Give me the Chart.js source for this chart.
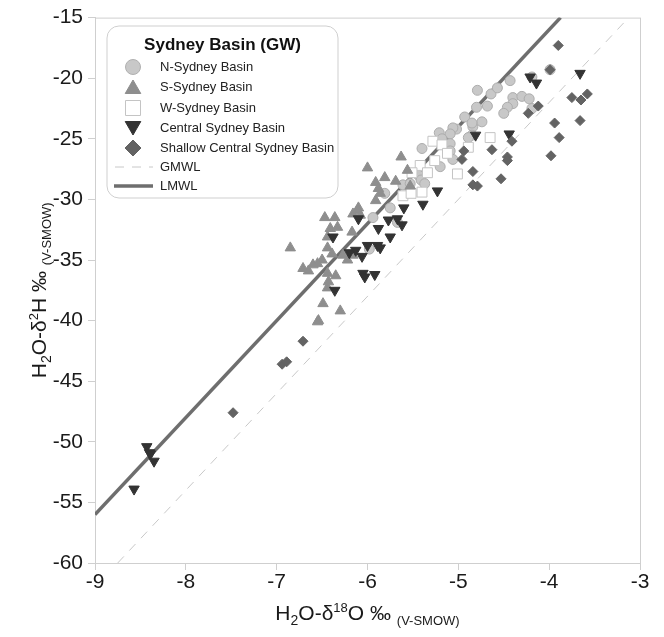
<!DOCTYPE html>
<html>
<head>
<meta charset="utf-8">
<script src="https://cdn.jsdelivr.net/npm/chart.js@4.4.0/dist/chart.umd.min.js"></script>
<style>
  html, body { margin: 0; padding: 0; background: #fff; }
  #wrap { width: 664px; height: 637px; }
</style>
</head>
<body>
<div id="wrap"><canvas id="isoChart" width="664" height="637"></canvas></div>
<script>
// --- values (d18O, d2H, permil V-SMOW) ---
const nX = [-3.99,-4.19,-4.43,-4.79,-4.64,-4.57,-4.80,-4.68,-4.40,-4.30,-4.22,-4.40,-4.46,-4.50,-4.19,-4.74,-4.84,-4.85,-4.93,-4.85,-5.02,-5.06,-5.21,-5.09,-4.89,-5.18,-5.09,-5.09,-5.40,-5.06,-5.20,-5.44,-5.41,-5.37,-5.55,-5.61,-5.53,-5.81,-5.75,-5.94,-5.98,-5.67];
const nY = [-19.3,-19.9,-20.2,-21.0,-21.3,-20.8,-22.4,-22.3,-21.6,-21.5,-21.7,-22.1,-22.4,-22.9,-22.5,-23.6,-24.0,-24.7,-23.2,-23.7,-24.2,-24.1,-24.5,-24.6,-24.9,-25.0,-25.4,-26.0,-25.8,-26.7,-27.3,-28.0,-28.4,-28.7,-28.9,-28.8,-28.7,-29.5,-30.7,-31.5,-34.1,-31.9];

const sX = [-5.63,-6.00,-5.91,-5.81,-5.69,-5.56,-5.88,-5.86,-5.91,-6.10,-5.53,-6.11,-6.16,-6.08,-6.47,-6.36,-6.41,-6.33,-6.17,-6.85,-6.44,-6.44,-6.39,-6.50,-6.55,-6.60,-6.65,-6.71,-6.44,-6.35,-6.43,-6.27,-6.22,-6.16,-6.49,-6.30,-6.54,-6.55,-6.44];
const sY = [-26.5,-27.4,-28.6,-28.2,-28.5,-27.6,-29.1,-29.5,-30.1,-30.7,-28.9,-30.9,-31.2,-31.3,-31.5,-31.5,-32.4,-32.3,-32.7,-34.0,-33.1,-34.0,-34.5,-35.0,-35.3,-35.4,-35.9,-35.7,-36.1,-36.3,-36.8,-34.6,-35.0,-34.6,-38.6,-39.2,-40.0,-40.1,-37.3];

const wX = [-4.65,-5.28,-5.18,-5.12,-4.89,-5.42,-5.26,-5.34,-5.01,-5.51,-5.61,-5.52,-5.40];
const wY = [-24.9,-25.2,-25.5,-26.2,-25.7,-27.2,-26.8,-27.8,-27.9,-27.8,-29.7,-29.5,-29.4];

const cX = [-4.21,-4.14,-3.66,-4.44,-4.81,-5.23,-5.60,-5.39,-5.77,-5.67,-5.62,-5.88,-5.75,-6.10,-6.38,-6.20,-6.13,-6.06,-6.00,-5.89,-5.86,-6.05,-6.03,-5.92,-6.36,-8.43,-8.40,-8.39,-8.35,-8.57];
const cY = [-19.9,-20.4,-19.6,-24.6,-24.7,-29.3,-30.7,-30.4,-31.7,-31.6,-32.1,-32.4,-33.1,-31.6,-33.1,-34.4,-34.2,-34.7,-33.8,-33.8,-34.0,-36.1,-36.4,-36.2,-37.5,-50.4,-50.9,-51.0,-51.6,-53.9];

const dX = [-3.90,-3.99,-3.75,-3.65,-3.58,-3.66,-3.94,-3.89,-3.98,-4.12,-4.23,-4.41,-4.63,-4.46,-4.46,-4.84,-4.53,-4.84,-4.79,-4.94,-4.96,-6.71,-6.94,-6.89,-7.48];
const dY = [-17.3,-19.3,-21.6,-21.8,-21.3,-23.5,-23.7,-24.9,-26.4,-22.3,-22.9,-25.2,-25.9,-26.5,-26.8,-27.7,-28.3,-28.8,-28.9,-26.0,-26.7,-41.7,-43.6,-43.4,-47.6];

// meteoric water lines (end points as drawn)
const gmwlX = [-8.75, -3.125];
const gmwlY = [-60, -15];
const lmwlX = [-9, -3.875];
const lmwlY = [-56, -15];

const xTicks = [-9, -8, -7, -6, -5, -4, -3];
const yTicks = [-60, -55, -50, -45, -40, -35, -30, -25, -20, -15];

const legendTitle = 'Sydney Basin (GW)';
const seriesNames = ['N-Sydney Basin', 'S-Sydney Basin', 'W-Sydney Basin', 'Central Sydney Basin', 'Shallow Central Sydney Basin', 'GMWL', 'LMWL'];

const FONT = '"Liberation Sans", Arial, Helvetica, sans-serif';

function pts(xs, ys) {
    return xs.map((x, i) => ({ x: x, y: ys[i] }));
}

// small marker painter for the legend box
function drawMark(ctx, kind, x, y, r, fill, stroke) {
    ctx.beginPath();
    if (kind === 'circle') {
        ctx.arc(x, y, r, 0, Math.PI * 2);
    } else if (kind === 'up') {
        ctx.moveTo(x, y - r);
        ctx.lineTo(x + r * 0.866, y + r * 0.5);
        ctx.lineTo(x - r * 0.866, y + r * 0.5);
        ctx.closePath();
    } else if (kind === 'down') {
        ctx.moveTo(x, y + r);
        ctx.lineTo(x + r * 0.866, y - r * 0.5);
        ctx.lineTo(x - r * 0.866, y - r * 0.5);
        ctx.closePath();
    } else if (kind === 'square') {
        ctx.rect(x - r, y - r, 2 * r, 2 * r);
    } else if (kind === 'diamond') {
        ctx.moveTo(x, y - r);
        ctx.lineTo(x + r, y);
        ctx.lineTo(x, y + r);
        ctx.lineTo(x - r, y);
        ctx.closePath();
    }
    ctx.fillStyle = fill;
    ctx.fill();
    ctx.lineWidth = 1;
    ctx.strokeStyle = stroke;
    ctx.stroke();
}

// text with sub/superscripts: parts = [text, size, yShift]
function richText(ctx, parts, x, y) {
    let w = 0;
    parts.forEach(p => {
        ctx.font = p[1] + 'px ' + FONT;
        w += ctx.measureText(p[0]).width;
    });
    let cx = x - w / 2;
    ctx.textAlign = 'left';
    ctx.textBaseline = 'alphabetic';
    parts.forEach(p => {
        ctx.font = p[1] + 'px ' + FONT;
        ctx.fillText(p[0], cx, y + p[2]);
        cx += ctx.measureText(p[0]).width;
    });
}

const decor = {
    id: 'decor',
    beforeDatasetsDraw(chart) {
        const a = chart.chartArea;
        const ctx = chart.ctx;
        ctx.save();
        ctx.strokeStyle = '#cfcfcf';
        ctx.lineWidth = 1;
        ctx.strokeRect(a.left + 0.5, a.top + 0.5, a.right - a.left, a.bottom - a.top);
        ctx.restore();
    },
    afterDraw(chart) {
        const a = chart.chartArea;
        const ctx = chart.ctx;
        ctx.save();
        ctx.fillStyle = '#1a1a1a';

        // x axis title
        richText(ctx, [['H', 21, 0], ['2', 14, 5], ['O-\u03b4', 21, 0], ['18', 13, -8], ['O \u2030 ', 21, 0], ['(V-SMOW)', 13, 5]],
            (a.left + a.right) / 2, 620);

        // y axis title (rotated)
        ctx.translate(46, (a.top + a.bottom) / 2);
        ctx.rotate(-Math.PI / 2);
        richText(ctx, [['H', 21, 0], ['2', 14, 5], ['O-\u03b4', 21, 0], ['2', 13, -8], ['H \u2030 ', 21, 0], ['(V-SMOW)', 13, 5]], 0, 0);
        ctx.restore();

        // legend box
        ctx.save();
        const bx = 107, by = 26, bw = 231, bh = 172, rr = 12;
        ctx.beginPath();
        ctx.moveTo(bx + rr, by);
        ctx.arcTo(bx + bw, by, bx + bw, by + bh, rr);
        ctx.arcTo(bx + bw, by + bh, bx, by + bh, rr);
        ctx.arcTo(bx, by + bh, bx, by, rr);
        ctx.arcTo(bx, by, bx + bw, by, rr);
        ctx.closePath();
        ctx.fillStyle = '#fff';
        ctx.fill();
        ctx.strokeStyle = '#cfcfcf';
        ctx.lineWidth = 1;
        ctx.stroke();

        ctx.fillStyle = '#111';
        ctx.font = 'bold 17px ' + FONT;
        ctx.textAlign = 'center';
        ctx.textBaseline = 'middle';
        ctx.fillText(legendTitle, bx + bw / 2, 45);

        const rows = [67, 87, 108, 128, 148, 167, 186];
        const mx = 133;
        drawMark(ctx, 'circle', mx, rows[0], 7.5, '#c8c8c8', '#b0b0b0');
        drawMark(ctx, 'up', mx, rows[1] + 2, 9, '#8e8e8e', '#8e8e8e');
        drawMark(ctx, 'square', mx, rows[2], 7.5, '#ffffff', '#c4c4c4');
        drawMark(ctx, 'down', mx, rows[3] - 2, 9, '#333333', '#333333');
        drawMark(ctx, 'diamond', mx, rows[4], 8, '#636363', '#636363');

        ctx.setLineDash([9, 8]);
        ctx.strokeStyle = '#c8c8c8';
        ctx.lineWidth = 1;
        ctx.beginPath();
        ctx.moveTo(115, rows[5]);
        ctx.lineTo(153, rows[5]);
        ctx.stroke();
        ctx.setLineDash([]);
        ctx.strokeStyle = '#6e6e6e';
        ctx.lineWidth = 3.5;
        ctx.beginPath();
        ctx.moveTo(114, rows[6]);
        ctx.lineTo(153, rows[6]);
        ctx.stroke();

        ctx.fillStyle = '#222';
        ctx.font = '13px ' + FONT;
        ctx.textAlign = 'left';
        seriesNames.forEach((s, i) => ctx.fillText(s, 160, rows[i]));
        ctx.restore();
    }
};

const ctx = document.getElementById('isoChart').getContext('2d');
new Chart(ctx, {
    type: 'scatter',
    data: {
        datasets: [
            {
                label: seriesNames[0],
                data: pts(nX, nY),
                pointStyle: 'circle',
                pointRadius: 5,
                backgroundColor: '#c8c8c8',
                borderColor: '#adadad',
                borderWidth: 1,
                order: 5
            },
            {
                label: seriesNames[1],
                data: pts(sX, sY),
                pointStyle: 'triangle',
                pointRadius: 6,
                backgroundColor: '#8e8e8e',
                borderColor: '#8e8e8e',
                borderWidth: 1,
                order: 3
            },
            {
                label: seriesNames[2],
                data: pts(wX, wY),
                pointStyle: 'rect',
                pointRadius: 7,
                backgroundColor: '#ffffff',
                borderColor: '#c4c4c4',
                borderWidth: 1,
                order: 4
            },
            {
                label: seriesNames[3],
                data: pts(cX, cY),
                pointStyle: 'triangle',
                rotation: 180,
                pointRadius: 6,
                backgroundColor: '#333333',
                borderColor: '#333333',
                borderWidth: 1,
                order: 2
            },
            {
                label: seriesNames[4],
                data: pts(dX, dY),
                pointStyle: 'rectRot',
                pointRadius: 5,
                backgroundColor: '#636363',
                borderColor: '#636363',
                borderWidth: 1,
                order: 1
            },
            {
                type: 'line',
                label: seriesNames[5],
                data: pts(gmwlX, gmwlY),
                borderColor: '#c8c8c8',
                borderWidth: 1,
                borderDash: [9, 8],
                pointRadius: 0,
                fill: false,
                order: 10
            },
            {
                type: 'line',
                label: seriesNames[6],
                data: pts(lmwlX, lmwlY),
                borderColor: '#6e6e6e',
                borderWidth: 3.5,
                pointRadius: 0,
                fill: false,
                order: 9
            }
        ]
    },
    options: {
        responsive: false,
        animation: false,
        devicePixelRatio: 1,
        events: [],
        layout: { padding: { top: 17, right: 24, left: 0, bottom: 0 } },
        plugins: {
            legend: { display: false },
            tooltip: { enabled: false }
        },
        scales: {
            x: {
                type: 'linear',
                min: -9,
                max: -3,
                afterBuildTicks: (s) => { s.ticks = xTicks.map(v => ({ value: v })); },
                afterFit: (s) => { s.height = 74; },
                grid: { drawOnChartArea: false, drawTicks: true, tickLength: 7, color: '#cfcfcf' },
                border: { color: '#cfcfcf' },
                ticks: {
                    color: '#1a1a1a',
                    font: { family: FONT, size: 21 },
                    padding: 0,
                    callback: (v) => String(v)
                }
            },
            y: {
                type: 'linear',
                min: -60,
                max: -15,
                afterBuildTicks: (s) => { s.ticks = yTicks.map(v => ({ value: v })); },
                afterFit: (s) => { s.width = 95; },
                grid: { drawOnChartArea: false, drawTicks: true, tickLength: 7, color: '#cfcfcf' },
                border: { color: '#cfcfcf' },
                ticks: {
                    color: '#1a1a1a',
                    font: { family: FONT, size: 21 },
                    padding: 5,
                    callback: (v) => String(v)
                }
            }
        }
    },
    plugins: [decor]
});
</script>
</body>
</html>
